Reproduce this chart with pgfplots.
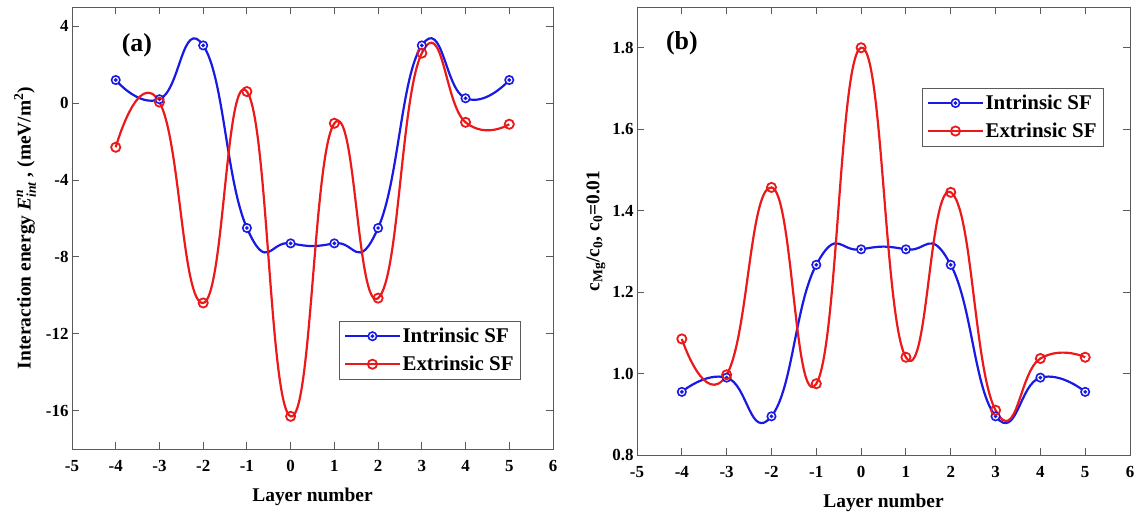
\documentclass[border=0pt]{standalone}
\usepackage{amsmath}
\usepackage{pgfplots}
\pgfplotsset{compat=1.18}
\usepackage{fontspec}
\setmainfont{Liberation Serif}

\definecolor{cblue}{RGB}{25,25,230}
\definecolor{cred}{RGB}{235,25,25}
\definecolor{axgray}{RGB}{90,90,90}

% open circle with a small dot in the middle
\pgfdeclareplotmark{odot}{%
  \pgfpathcircle{\pgfpointorigin}{\pgfplotmarksize}\pgfusepathqfillstroke
  \pgfpathcircle{\pgfpointorigin}{0.22\pgfplotmarksize}\pgfusepathqstroke}

\pgfplotsset{
  panel/.style={
    scale only axis,
    axis line style={axgray, line width=0.9bp},
    tick style={axgray, line width=0.9bp, major tick length=7bp},
    tick align=inside,
    xmin=-5, xmax=6, xtick={-5,...,6},
    /pgf/number format/assume math mode=true,
    tick label style={font=\bfseries\fontsize{17}{17}\selectfont, black},
    xticklabel style={yshift=-8bp},
    label style={font=\bfseries\fontsize{19.5}{19.5}\selectfont},
    xlabel={Layer number},
    xlabel style={yshift=-9bp},
    legend style={draw=axgray, line width=0.8bp, font=\bfseries\fontsize{21}{23}\selectfont,
      inner xsep=5bp, inner ysep=5bp, row sep=8bp},
    legend cell align=left,
    legend image code/.code={
      \draw[line width=2.2bp, mark repeat=2, mark phase=2] plot coordinates {(0bp,0bp) (27bp,0bp) (54bp,0bp)};},
  },
  intr/.style={cblue, line width=2.2bp, smooth, tension=0.85, mark=odot, mark size=4.2bp,
    mark options={fill=white, line width=1.6bp}},
  extr/.style={cred, line width=2.2bp, smooth, tension=0.85, mark=o, mark size=4.6bp,
    mark options={fill=white, line width=1.8bp}},
}

\begin{document}
\begin{tikzpicture}[x=1bp,y=1bp]
\path[use as bounding box] (0,0) rectangle (1141,-516);

\begin{axis}[panel, at={(72bp,-449bp)}, anchor=south west,
  width=481bp, height=442bp,
  ymin=-18, ymax=5, ytick={-16,-12,-8,-4,0,4},
  ylabel={Interaction energy \textit{E}$_{\text{\itshape int}}^{\text{\itshape n}}$ , (meV/m$^{\text{2}}$)},
  ylabel style={yshift=3bp},
  legend style={at={(0.555,0.29)}, anchor=north west},
  ]
\addplot[intr] coordinates {(-4,1.2) (-3,0.2) (-2,3.0) (-1,-6.5) (0,-7.3) (1,-7.3) (2,-6.5) (3,3.0) (4,0.25) (5,1.2)};
\addplot[extr] coordinates {(-4,-2.3) (-3,0.05) (-2,-10.4) (-1,0.6) (0,-16.3) (1,-1.05) (2,-10.15) (3,2.6) (4,-1.0) (5,-1.1)};
\legend{Intrinsic SF, Extrinsic SF}
\node[font=\bfseries\fontsize{26}{26}\selectfont] at (rel axis cs:0.135,0.914) {(a)};
\end{axis}

\begin{axis}[panel, at={(637bp,-455bp)}, anchor=south west,
  width=493bp, height=448bp,
  ymin=0.8, ymax=1.9, ytick={0.8,1.0,...,1.8},
  yticklabel style={/pgf/number format/.cd, fixed, fixed zerofill, precision=1},
  ylabel={c$_{\text{Mg}}$/c$_{\text{0}}$, c$_{\text{0}}$=0.01},
  ylabel style={yshift=0bp},
  legend style={at={(0.578,0.82)}, anchor=north west},
  ]
\addplot[intr] coordinates {(-4,0.955) (-3,0.99) (-2,0.895) (-1,1.267) (0,1.305) (1,1.305) (2,1.267) (3,0.895) (4,0.99) (5,0.955)};
\addplot[extr] coordinates {(-4,1.085) (-3,0.997) (-2,1.457) (-1,0.975) (0,1.80) (1,1.04) (2,1.445) (3,0.91) (4,1.037) (5,1.04)};
\legend{Intrinsic SF, Extrinsic SF}
\node[font=\bfseries\fontsize{26}{26}\selectfont] at (rel axis cs:0.091,0.92) {(b)};
\end{axis}
\end{tikzpicture}
\end{document}
